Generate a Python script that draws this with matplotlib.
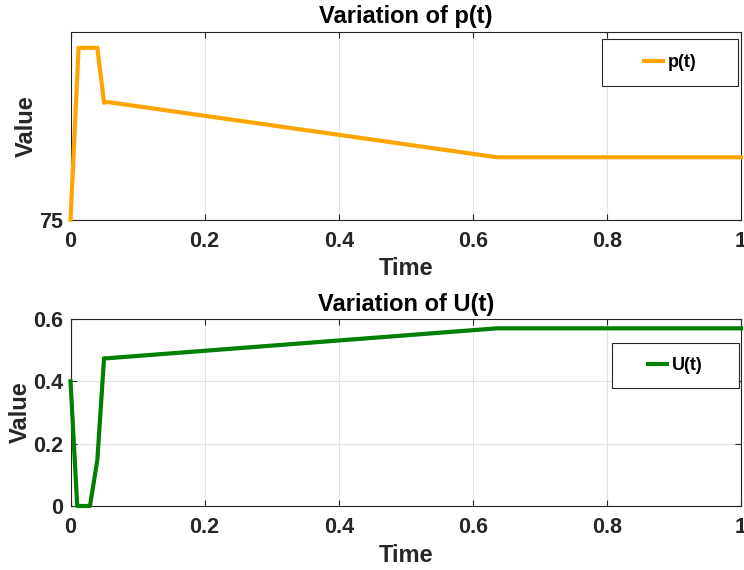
import matplotlib
matplotlib.use("Agg")
import matplotlib.pyplot as plt
from matplotlib.patches import Rectangle

plt.rcParams['font.family'] = ['Liberation Sans', 'DejaVu Sans']
plt.rcParams['font.weight'] = 'bold'

# p(t) samples
t_p = [0.0, 0.012, 0.040, 0.050, 0.055, 0.636, 1.0]
p_vals = [75.0, 79.57, 79.57, 78.11, 78.13, 76.66, 76.66]

# U(t) samples
t_u = [0.0, 0.010, 0.029, 0.040, 0.050, 0.055, 0.636, 1.0]
u_vals = [0.40, 0.0, 0.0, 0.148, 0.474, 0.474, 0.570, 0.570]

x_ticks = [0, 0.2, 0.4, 0.6, 0.8, 1]
x_labels = ['0', '0.2', '0.4', '0.6', '0.8', '1']
p_ticks = [75]
u_ticks = [0, 0.2, 0.4, 0.6]
u_labels = ['0', '0.2', '0.4', '0.6']

fig = plt.figure(figsize=(7.44, 5.70), dpi=100)
ax1 = fig.add_axes([0.0948, 0.6146, 0.9012, 0.3298])
ax2 = fig.add_axes([0.0948, 0.1123, 0.9012, 0.3281])

edge = '#262626'
tick_fs = 15.5
lab_fs = 17


def style(ax):
    for s in ax.spines.values():
        s.set_color(edge)
        s.set_linewidth(0.8)
    ax.tick_params(direction='in', length=4, width=0.8, colors=edge,
                   labelsize=tick_fs, labelcolor=edge, top=True, right=True)
    ax.tick_params(axis='x', pad=8)
    ax.tick_params(axis='y', pad=5)
    ax.grid(True, color='#e3e3e3', linewidth=0.8)
    ax.set_axisbelow(True)
    ax.set_xlim(0, 1)
    ax.set_xticks(x_ticks)
    ax.set_xticklabels(x_labels, fontweight='bold')
    ax.set_xlabel('Time', fontsize=lab_fs, fontweight='bold', color=edge, labelpad=4)
    ax.set_ylabel('Value', fontsize=lab_fs, fontweight='bold', color=edge, labelpad=1)


def legend_box(ax, x0, y0, x1, y1, line, label):
    ax.add_patch(Rectangle((x0, y0), x1 - x0, y1 - y0, transform=ax.transAxes,
                           facecolor='white', edgecolor=edge, linewidth=0.8,
                           zorder=5))
    leg = ax.legend([line], [label], loc='center',
                    bbox_to_anchor=((x0 + x1) / 2, (y0 + y1) / 2),
                    frameon=False, handlelength=1.1,
                    handletextpad=0.25, prop={'weight': 'bold', 'size': 13})
    leg.set_zorder(6)


# top plot
line1, = ax1.plot(t_p, p_vals, color='#FFA500', linewidth=3, clip_on=False, zorder=3)
style(ax1)
ax1.set_ylim(75, 80)
ax1.set_yticks(p_ticks)
ax1.set_yticklabels(['75'], fontweight='bold')
ax1.set_title('Variation of p(t)', fontsize=lab_fs, fontweight='bold', pad=6)
legend_box(ax1, 0.793, 0.713, 0.9955, 0.961, line1, 'p(t)')

# bottom plot
line2, = ax2.plot(t_u, u_vals, color='#008000', linewidth=3, clip_on=False, zorder=3)
style(ax2)
ax2.set_ylim(0, 0.6)
ax2.set_yticks(u_ticks)
ax2.set_yticklabels(u_labels, fontweight='bold')
ax2.set_title('Variation of U(t)', fontsize=lab_fs, fontweight='bold', pad=6)
legend_box(ax2, 0.807, 0.629, 0.9963, 0.870, line2, 'U(t)')

fig.savefig('out.png', dpi=100)
